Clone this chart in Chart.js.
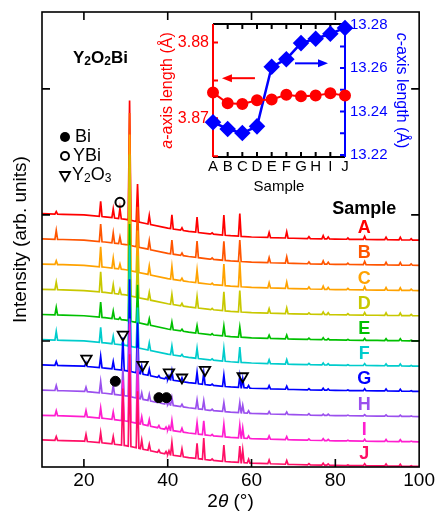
<!DOCTYPE html>
<html>
<head>
<meta charset="utf-8">
<script src="https://cdn.jsdelivr.net/npm/chart.js@4.4.0/dist/chart.umd.min.js"></script>
<style>
  html, body { margin: 0; padding: 0; background: #fff; }
  #wrap { position: relative; width: 437px; height: 512px; }
  #main { position: absolute; left: 0; top: 0; }
  #inset { position: absolute; left: 140px; top: 10px; }
</style>
</head>
<body>
<div id="wrap">
  <canvas id="main" width="437" height="512"></canvas>
  <canvas id="inset" width="280" height="190"></canvas>
</div>
<script>
const FONT = '"Liberation Sans", Arial, Helvetica, sans-serif';

// ---- main panel: stacked XRD patterns ----
const samples = ['A', 'B', 'C', 'D', 'E', 'F', 'G', 'H', 'I', 'J'];
const sampleColors = ['#ff0000', '#ff5500', '#ffa200', '#c8c800', '#00c000', '#00cccc', '#0000ff', '#9b50ee', '#ff1ecf', '#ff0f66'];
const sampleOffsets = [1.8, 1.6, 1.4, 1.2, 1.0, 0.8, 0.6, 0.4, 0.2, 0.005];

// sloping background (2theta, intensity above offset)
const bgAngles = [10, 15, 20, 25, 30, 35, 40, 45, 50, 55, 60, 70, 80, 90, 100];
const bgLevels = [0.21, 0.205, 0.2, 0.185, 0.165, 0.13, 0.095, 0.07, 0.05, 0.035, 0.025, 0.015, 0.008, 0.004, 0];

// peak positions (2theta) and heights per sample
const peakPos = [13.4, 20.5, 24.0, 27.0, 28.6, 29.3, 30.9, 32.8, 33.8, 35.6, 37.9, 39.6, 40.3, 41.0, 43.4, 47.0,
                 48.6, 50.6, 53.4, 57.2, 57.9, 59.3, 64.2, 68.4, 73.7, 77.1, 78.3, 83.0, 87.0, 92.1, 95.5, 98.1];
const heightsA = [0.02, 0, 0.12, 0.07, 0.08, 0, 0.95, 0.30, 0, 0.07, 0, 0, 0, 0.11, 0.02, 0.12,
                  0, 0.01, 0.16, 0.18, 0, 0, 0.04, 0.05, 0.015, 0.025, 0.015, 0.01, 0.025, 0.02, 0.02, 0.01];
const heightsB = [0.07, 0, 0.14, 0.08, 0.055, 0, 1.05, 0.32, 0, 0.07, 0, 0, 0, 0.11, 0.02, 0.13,
                  0, 0.01, 0.15, 0.17, 0, 0, 0.04, 0.05, 0.015, 0.025, 0.015, 0.01, 0.025, 0.02, 0.02, 0.01];
const heightsC = [0.03, 0, 0.16, 0.08, 0.04, 0, 1.08, 0.33, 0, 0.07, 0, 0, 0, 0.10, 0.02, 0.10,
                  0, 0.01, 0.17, 0.20, 0, 0, 0.04, 0.05, 0.015, 0.025, 0.015, 0.01, 0.025, 0.02, 0.02, 0.01];
const heightsD = [0.06, 0, 0.16, 0.07, 0.04, 0, 1.12, 0.33, 0, 0.06, 0, 0, 0, 0.08, 0.02, 0.09,
                  0, 0.01, 0.15, 0.17, 0, 0, 0.035, 0.045, 0.01, 0.02, 0.015, 0.01, 0.02, 0.02, 0.02, 0.01];
const heightsE = [0.06, 0, 0.12, 0.06, 0.015, 0, 0.77, 0.30, 0, 0.05, 0, 0, 0, 0.06, 0.015, 0.06,
                  0, 0.01, 0.08, 0.08, 0, 0, 0.025, 0.03, 0.01, 0.015, 0.01, 0.005, 0.015, 0.015, 0.015, 0.005];
const heightsF = [0.07, 0, 0.12, 0.06, 0, 0.03, 0.80, 0.32, 0, 0.06, 0, 0, 0, 0.07, 0.015, 0.08,
                  0, 0.01, 0.10, 0.12, 0, 0, 0.03, 0.035, 0.01, 0.015, 0.01, 0.005, 0.015, 0.015, 0.015, 0.005];
const heightsG = [0.03, 0.03, 0.09, 0.06, 0, 0.26, 0.73, 0.40, 0.06, 0.05, 0.015, 0.015, 0.03, 0.07, 0.03, 0.09,
                  0.09, 0.01, 0.09, 0.09, 0.07, 0.02, 0.025, 0.025, 0.01, 0.015, 0.01, 0.005, 0.015, 0.015, 0.015, 0.005];
const heightsH = [0.04, 0.035, 0.09, 0.07, 0, 0.22, 0.62, 0.40, 0.05, 0.05, 0.03, 0.03, 0.02, 0.06, 0.02, 0.07,
                  0.07, 0.01, 0.07, 0.08, 0.06, 0.02, 0.02, 0.02, 0.01, 0.01, 0.01, 0.005, 0.01, 0.01, 0.01, 0.005];
const heightsI = [0.04, 0.05, 0.08, 0.06, 0, 0.32, 0.78, 0.42, 0.06, 0.05, 0.02, 0.02, 0.03, 0.08, 0.03, 0.09,
                  0.11, 0.01, 0.10, 0.10, 0.08, 0.02, 0.025, 0.025, 0.01, 0.015, 0.01, 0.005, 0.015, 0.015, 0.015, 0.005];
const heightsJ = [0.03, 0.055, 0.08, 0.06, 0, 0.45, 0.73, 0.45, 0.07, 0.05, 0.02, 0.02, 0.03, 0.10, 0.06, 0.12,
                  0.17, 0.01, 0.13, 0.13, 0.10, 0.03, 0.03, 0.03, 0.01, 0.015, 0.01, 0.005, 0.015, 0.015, 0.015, 0.005];
const peakHeights = [heightsA, heightsB, heightsC, heightsD, heightsE, heightsF, heightsG, heightsH, heightsI, heightsJ];

// impurity markers (2theta, intensity)
const biX = [27.5, 37.9, 39.7];
const biY = [0.68, 0.55, 0.55];
const ybiX = [28.6];
const ybiY = [2.10];
const y2o3X = [20.6, 29.3, 34.0, 40.3, 43.4, 48.9, 57.9];
const y2o3Y = [0.86, 1.05, 0.81, 0.75, 0.71, 0.77, 0.72];

const xTicks = [20, 40, 60, 80, 100];
const yTicks = [0, 1, 2, 3];

// ---- inset: lattice parameters ----
const aAxis = [3.8734, 3.8720, 3.8719, 3.8724, 3.8725, 3.8731, 3.8729, 3.8730, 3.8733, 3.8730];
const cAxis = [13.2351, 13.2320, 13.2301, 13.2332, 13.2606, 13.2641, 13.2715, 13.2735, 13.2758, 13.2785];
const aTicks = [3.87, 3.88];
const aMinorTicks = [3.865, 3.87, 3.875, 3.88];
const cTicks = [13.22, 13.24, 13.26, 13.28];
const cMinorTicks = [13.22, 13.23, 13.24, 13.25, 13.26, 13.27, 13.28];

const PEAK_HALF = 0.32;

function bgAt(t) {
  for (let i = 1; i < bgAngles.length; i++) {
    if (t <= bgAngles[i]) {
      const f = (t - bgAngles[i - 1]) / (bgAngles[i] - bgAngles[i - 1]);
      return bgLevels[i - 1] + f * (bgLevels[i] - bgLevels[i - 1]);
    }
  }
  return bgLevels[bgLevels.length - 1];
}

function patternPoints(heights, offset) {
  const pts = bgAngles.map((t, i) => ({ x: t, y: offset + bgLevels[i] }));
  peakPos.forEach((p, k) => {
    const h = heights[k];
    if (!h) return;
    pts.push({ x: p - PEAK_HALF, y: offset + bgAt(p - PEAK_HALF) });
    pts.push({ x: p, y: offset + bgAt(p) + h });
    pts.push({ x: p + PEAK_HALF, y: offset + bgAt(p + PEAK_HALF) });
  });
  pts.sort((a, b) => a.x - b.x);
  return pts;
}

function zip(xs, ys) {
  return xs.map((v, i) => ({ x: v, y: ys[i] }));
}

// draws a run of text pieces [text, font, dy] with mixed styles
function drawRuns(ctx, runs, x, y, align) {
  let w = 0;
  runs.forEach(r => { ctx.font = r[1]; w += ctx.measureText(r[0]).width; });
  let cx = align === 'center' ? x - w / 2 : x;
  ctx.textAlign = 'left';
  ctx.textBaseline = 'middle';
  runs.forEach(r => {
    ctx.font = r[1];
    ctx.fillText(r[0], cx, y + (r[2] || 0));
    cx += ctx.measureText(r[0]).width;
  });
}

const patternSets = samples.map((s, i) => ({
  label: s,
  data: patternPoints(peakHeights[i], sampleOffsets[i]),
  borderColor: sampleColors[i],
  borderWidth: 1.7,
  pointRadius: 0,
  pointHoverRadius: 0,
  tension: 0,
  order: 11 - i
}));

const markerSets = [
  { label: 'Bi', data: zip(biX, biY), showLine: false, pointStyle: 'circle', pointRadius: 5,
    pointBackgroundColor: '#000', pointBorderColor: '#000', pointBorderWidth: 1, order: 0 },
  { label: 'YBi', data: zip(ybiX, ybiY), showLine: false, pointStyle: 'circle', pointRadius: 4.5,
    pointBackgroundColor: 'rgba(0,0,0,0)', pointBorderColor: '#000', pointBorderWidth: 2, order: 0 },
  { label: 'Y2O3', data: zip(y2o3X, y2o3Y), showLine: false, pointStyle: 'triangle', pointRotation: 180,
    pointRadius: 6, pointBackgroundColor: 'rgba(0,0,0,0)', pointBorderColor: '#000', pointBorderWidth: 1.8, order: 0 }
];

const mainDeco = {
  id: 'mainDeco',
  afterDraw(chart) {
    const { ctx, chartArea: a, scales: { x, y } } = chart;
    ctx.save();
    ctx.strokeStyle = '#000';
    ctx.lineWidth = 1.6;
    ctx.strokeRect(a.left, a.top, a.right - a.left, a.bottom - a.top);
    ctx.beginPath();
    xTicks.forEach(v => {
      if (v >= 100) return;
      const px = x.getPixelForValue(v);
      ctx.moveTo(px, a.bottom); ctx.lineTo(px, a.bottom - 8);
      ctx.moveTo(px, a.top); ctx.lineTo(px, a.top + 8);
    });
    yTicks.forEach(v => {
      if (v <= 0) return;
      const py = y.getPixelForValue(v);
      ctx.moveTo(a.left, py); ctx.lineTo(a.left + 8, py);
      ctx.moveTo(a.right, py); ctx.lineTo(a.right - 8, py);
    });
    ctx.stroke();

    ctx.fillStyle = '#000';
    // x-axis title
    drawRuns(ctx, [['2', '19px ' + FONT], ['\u03b8', 'italic 19px ' + FONT], [' (\u00b0)', '19px ' + FONT]],
      (a.left + a.right) / 2, 502, 'center');

    // compound name
    drawRuns(ctx, [['Y', 'bold 17px ' + FONT], ['2', 'bold 12px ' + FONT, 4], ['O', 'bold 17px ' + FONT],
      ['2', 'bold 12px ' + FONT, 4], ['Bi', 'bold 17px ' + FONT]], a.left + 31, 58, 'left');

    // impurity legend
    const lx = a.left + 23;
    ctx.beginPath(); ctx.arc(lx, 137, 5, 0, Math.PI * 2); ctx.fill();
    ctx.lineWidth = 2;
    ctx.beginPath(); ctx.arc(lx, 156, 4, 0, Math.PI * 2); ctx.stroke();
    ctx.lineWidth = 1.8;
    ctx.beginPath(); ctx.moveTo(lx - 5, 172); ctx.lineTo(lx + 5, 172); ctx.lineTo(lx, 181); ctx.closePath(); ctx.stroke();
    drawRuns(ctx, [['Bi', '18px ' + FONT]], lx + 10, 137, 'left');
    drawRuns(ctx, [['YBi', '18px ' + FONT]], lx + 8, 156, 'left');
    drawRuns(ctx, [['Y', '18px ' + FONT], ['2', '12px ' + FONT, 4], ['O', '18px ' + FONT], ['3', '12px ' + FONT, 4]],
      lx + 7, 175, 'left');

    // sample labels
    const labX = x.getPixelForValue(86.9);
    drawRuns(ctx, [['Sample', 'bold 18px ' + FONT]], labX, y.getPixelForValue(2.05), 'center');
    samples.forEach((s, i) => {
      ctx.fillStyle = sampleColors[i];
      drawRuns(ctx, [[s, 'bold 18px ' + FONT]], labX, y.getPixelForValue(sampleOffsets[i] + 0.095), 'center');
    });
    ctx.restore();
  }
};

new Chart(document.getElementById('main'), {
  type: 'line',
  data: { datasets: [...patternSets, ...markerSets] },
  options: {
    responsive: false,
    animation: false,
    devicePixelRatio: 1,
    layout: { padding: { left: 0, right: 16, top: 12, bottom: 0 } },
    plugins: { legend: { display: false }, tooltip: { enabled: false } },
    scales: {
      x: {
        type: 'linear', min: 10, max: 100,
        grid: { display: false, drawTicks: false },
        border: { display: false },
        afterBuildTicks: s => { s.ticks = xTicks.map(v => ({ value: v })); },
        afterFit: s => { s.height = 45; },
        ticks: { font: { family: FONT, size: 19 }, color: '#000', padding: 2, maxRotation: 0, autoSkip: false }
      },
      y: {
        type: 'linear', min: 0, max: 3.61,
        grid: { display: false, drawTicks: false },
        border: { display: false },
        afterBuildTicks: s => { s.ticks = yTicks.map(v => ({ value: v })); },
        afterFit: s => { s.width = 42; },
        ticks: { display: false },
        title: { display: true, text: 'Intensity (arb. units)', font: { family: FONT, size: 19 }, color: '#000',
                 padding: { top: 9, bottom: 0 } }
      }
    }
  },
  plugins: [mainDeco]
});

// ---- inset chart ----
const RED = '#ff0000';
const BLUE = '#0000ff';

function arrow(ctx, x1, x2, yy, color) {
  const dir = Math.sign(x2 - x1);
  ctx.strokeStyle = color; ctx.fillStyle = color; ctx.lineWidth = 2;
  ctx.beginPath(); ctx.moveTo(x1, yy); ctx.lineTo(x2 - dir * 8, yy); ctx.stroke();
  ctx.beginPath(); ctx.moveTo(x2, yy); ctx.lineTo(x2 - dir * 10, yy - 4); ctx.lineTo(x2 - dir * 10, yy + 4);
  ctx.closePath(); ctx.fill();
}

const insetDeco = {
  id: 'insetDeco',
  beforeDatasetsDraw(chart) {
    const { ctx, chartArea: a, scales: { x, yA, yC } } = chart;
    ctx.save();
    ctx.lineWidth = 2;
    ctx.strokeStyle = '#000';
    ctx.beginPath();
    ctx.moveTo(a.left, a.top); ctx.lineTo(a.right, a.top);
    ctx.moveTo(a.left, a.bottom); ctx.lineTo(a.right, a.bottom);
    samples.forEach((s, i) => {
      const px = x.getPixelForValue(i);
      ctx.moveTo(px, a.top); ctx.lineTo(px, a.top + 5);
      ctx.moveTo(px, a.bottom); ctx.lineTo(px, a.bottom - 5);
    });
    ctx.stroke();
    ctx.strokeStyle = RED;
    ctx.beginPath();
    ctx.moveTo(a.left, a.top); ctx.lineTo(a.left, a.bottom);
    aMinorTicks.forEach(v => { const py = yA.getPixelForValue(v); ctx.moveTo(a.left, py); ctx.lineTo(a.left + 5, py); });
    ctx.stroke();
    ctx.strokeStyle = BLUE;
    ctx.beginPath();
    ctx.moveTo(a.right, a.top); ctx.lineTo(a.right, a.bottom);
    cMinorTicks.forEach(v => { const py = yC.getPixelForValue(v); ctx.moveTo(a.right, py); ctx.lineTo(a.right - 5, py); });
    ctx.stroke();
    ctx.restore();
  },
  afterDraw(chart) {
    const { ctx, chartArea: a, scales: { x, yA, yC } } = chart;
    ctx.save();
    const midY = (a.top + a.bottom) / 2;
    ctx.fillStyle = RED;
    ctx.save();
    ctx.translate(a.left - 45, midY);
    ctx.rotate(-Math.PI / 2);
    drawRuns(ctx, [['a', 'italic 16px ' + FONT], ['-axis length (\u00c5)', '16px ' + FONT]], 0, 0, 'center');
    ctx.restore();
    ctx.fillStyle = BLUE;
    ctx.save();
    ctx.translate(a.right + 56, midY);
    ctx.rotate(Math.PI / 2);
    drawRuns(ctx, [['c', 'italic 16px ' + FONT], ['-axis length (\u00c5)', '16px ' + FONT]], 0, 0, 'center');
    ctx.restore();
    arrow(ctx, x.getPixelForValue(2.86), x.getPixelForValue(0.61), yA.getPixelForValue(3.8753), RED);
    arrow(ctx, x.getPixelForValue(5.59), x.getPixelForValue(7.84), yC.getPixelForValue(13.2622), BLUE);
    ctx.restore();
  }
};

new Chart(document.getElementById('inset'), {
  type: 'line',
  data: {
    labels: samples,
    datasets: [
      { data: aAxis, yAxisID: 'yA', borderColor: RED, backgroundColor: RED, borderWidth: 2,
        pointStyle: 'circle', pointRadius: 5, pointHoverRadius: 5, clip: false },
      { data: cAxis, yAxisID: 'yC', borderColor: BLUE, backgroundColor: BLUE, borderWidth: 2.5,
        pointStyle: 'rectRot', pointRadius: 6.5, pointHoverRadius: 6.5, clip: false }
    ]
  },
  options: {
    responsive: false,
    animation: false,
    devicePixelRatio: 1,
    layout: { padding: 0 },
    plugins: { legend: { display: false }, tooltip: { enabled: false } },
    scales: {
      x: {
        type: 'category', offset: false,
        grid: { display: false, drawTicks: false },
        border: { display: false },
        ticks: { font: { family: FONT, size: 15 }, color: '#000', padding: 1, maxRotation: 0, autoSkip: false },
        title: { display: true, text: 'Sample', font: { family: FONT, size: 15 }, color: '#000', padding: { top: 0, bottom: 4 } },
        afterFit: s => { s.height = 43; }
      },
      yA: {
        position: 'left', min: 3.8649, max: 3.88245,
        grid: { display: false, drawTicks: false },
        border: { display: false },
        afterBuildTicks: s => { s.ticks = aTicks.map(v => ({ value: v })); },
        ticks: { font: { family: FONT, size: 16 }, color: RED, padding: 4, callback: v => v.toFixed(2) },
        afterFit: s => { s.width = 73; }
      },
      yC: {
        position: 'right', min: 13.2191, max: 13.2803,
        grid: { display: false, drawTicks: false },
        border: { display: false },
        afterBuildTicks: s => { s.ticks = cTicks.map(v => ({ value: v })); },
        ticks: { font: { family: FONT, size: 15 }, color: BLUE, padding: 5, callback: v => v.toFixed(2) },
        afterFit: s => { s.width = 75; }
      }
    }
  },
  plugins: [insetDeco]
});
</script>
</body>
</html>
